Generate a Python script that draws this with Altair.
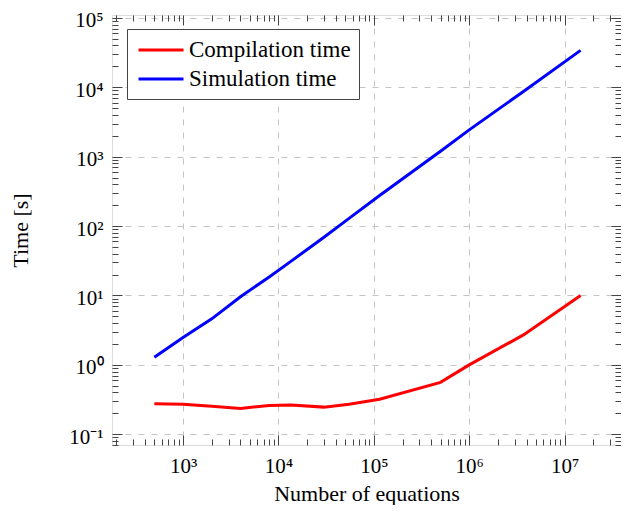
import altair as alt
import pandas as pd

# ---- data ----
n_equations = [500, 1000, 2000, 4000, 8000, 13500, 30000, 55000, 115000,
               500000, 1000000, 3700000, 14700000]
compilation_time = [0.274, 0.27, 0.253, 0.235, 0.26, 0.265, 0.246, 0.27, 0.32,
                    0.56, 1.0, 2.7, 10.0]
simulation_time = [1.29, 2.48, 4.6, 9.6, 18.5, 31, 69, 129, 275,
                   1200, 2430, 8700, 34000]
series_names = ["Compilation time", "Simulation time"]
series_colors = ["#ff0000", "#0000ff"]

x_major = [1e3, 1e4, 1e5, 1e6, 1e7]
x_major_labels = ["10³", "10⁴", "10⁵", "10⁶", "10⁷"]
y_major = [0.1, 1, 10, 100, 1000, 10000, 100000]
y_major_labels = ["10⁻¹", "10⁰", "10¹", "10²", "10³", "10⁴", "10⁵"]

x_domain = [180, 3.9e7]
y_domain = [0.07, 1.1e5]

# minor tick positions (1..9 times each decade) inside the domains
x_ticks_all = [m * 10 ** k for k in range(2, 8) for m in range(1, 10)
               if x_domain[0] <= m * 10 ** k <= x_domain[1]]
y_ticks_all = [round(m * 10.0 ** k, 6) for k in range(-2, 6) for m in range(1, 10)
               if y_domain[0] <= m * 10.0 ** k <= y_domain[1]]

rows = []
for n, c, s in zip(n_equations, compilation_time, simulation_time):
    rows.append({"N": n, "time": c, "series": series_names[0]})
    rows.append({"N": n, "time": s, "series": series_names[1]})
df = pd.DataFrame(rows)

W, H = 509, 430
FONT = "Liberation Serif"
FRAME = "#444444"
GRID = "#c4c4c4"


def label_expr(values, labels):
    expr = "''"
    for v, l in reversed(list(zip(values, labels))):
        expr = f"datum.value == {v!r} ? '{l}' : ({expr})"
    return expr


def major_test(values):
    return "indexof([" + ",".join(repr(v) for v in values) + "], datum.value) >= 0"


x_tick_size = {"condition": {"test": major_test(x_major), "value": 10}, "value": 6}
y_tick_size = {"condition": {"test": major_test(y_major), "value": 10}, "value": 6}

x_scale = alt.Scale(type="log", domain=x_domain, nice=False)
y_scale = alt.Scale(type="log", domain=y_domain, nice=False)

base = alt.Chart(df)

lines = base.mark_line(strokeWidth=3).encode(
    x=alt.X("N:Q", scale=x_scale, axis=alt.Axis(
        orient="bottom", values=x_major, labelExpr=label_expr(x_major, x_major_labels),
        ticks=False, domain=False, grid=True, gridDash=[6, 7], gridColor=GRID,
        gridWidth=1, labelFont=FONT, labelFontSize=21, labelColor="black",
        labelPadding=10, title="Number of equations", titleFont=FONT,
        titleFontSize=22, titleFontWeight="normal", titleColor="black",
        titleBaseline="alphabetic", titleX=W / 2, titleY=55)),
    y=alt.Y("time:Q", scale=y_scale, axis=alt.Axis(
        orient="left", values=y_major, labelExpr=label_expr(y_major, y_major_labels),
        ticks=False, domain=False, grid=True, gridDash=[6, 7], gridColor=GRID,
        gridWidth=1, labelFont=FONT, labelFontSize=21, labelColor="black",
        labelPadding=9, labelOffset=3, title="Time [s]", titleFont=FONT,
        titleFontSize=22, titleFontWeight="normal", titleColor="black",
        titleBaseline="alphabetic", titleAngle=270, titleX=-85, titleY=H / 2)),
    color=alt.Color("series:N", scale=alt.Scale(domain=series_names, range=series_colors),
                    legend=alt.Legend(
                        title=None, orient="none", legendX=15, legendY=14,
                        direction="vertical", fillColor="white", strokeColor=FRAME,
                        padding=8, symbolType="M-2,0L2,0", symbolSize=506,
                        symbolStrokeWidth=3, symbolOffset=13, labelFont=FONT,
                        labelFontSize=23, labelColor="black", labelLimit=400,
                        rowPadding=4, labelOffset=15, cornerRadius=0)),
    order="series:N",
)


def tick_axis(orient, offset, values, size):
    return alt.Axis(orient=orient, offset=offset, values=values, labels=False,
                    domain=False, grid=False, ticks=True, tickSize=size,
                    tickColor=FRAME, tickWidth=1, title="")


ticks_a = base.mark_line(opacity=0).encode(
    x=alt.X("N:Q", axis=tick_axis("top", -H, x_ticks_all, x_tick_size)),
    y=alt.Y("time:Q", axis=tick_axis("right", -W, y_ticks_all, y_tick_size)),
    detail="series:N",
)
ticks_b = base.mark_line(opacity=0).encode(
    x=alt.X("N:Q", axis=tick_axis("bottom", -H, x_ticks_all, x_tick_size)),
    y=alt.Y("time:Q", axis=tick_axis("left", -W, y_ticks_all, y_tick_size)),
    detail="series:N",
)

chart = alt.layer(lines, ticks_a, ticks_b).resolve_axis(
    x="independent", y="independent"
).properties(
    width=W, height=H, autosize="none",
    padding={"left": 104, "top": 7, "right": 0, "bottom": 60},
).configure_view(stroke=FRAME, strokeWidth=1).configure(background="white")

chart.save("out.html", embed_options={"renderer": "svg", "actions": False})
